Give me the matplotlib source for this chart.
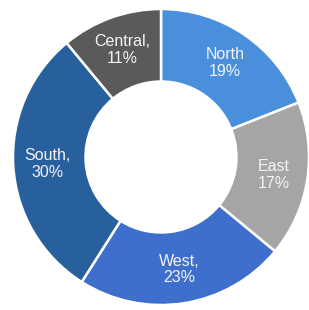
import numpy as np
import matplotlib.pyplot as plt

regions = ['North', 'East', 'West', 'South', 'Central']
shares = [19, 17, 23, 30, 11]
labels = ['North\n19%', 'East\n17%', 'West,\n23%', 'South,\n30%', 'Central,\n11%']
colors = ['#4a8fdb', '#a5a5a5', '#3f6fcc', '#28609e', '#5a5a5a']

fig = plt.figure(figsize=(3.09, 3.10), dpi=100)
ax = fig.add_axes([13 / 309, 5 / 310, 296 / 309, 296 / 310])

wedges, _ = ax.pie(shares, colors=colors, startangle=90, counterclock=False,
                   radius=1.0, wedgeprops=dict(width=0.49, edgecolor='white', linewidth=1.8))

# labels sit in the middle of the ring
for w, lab in zip(wedges, labels):
    ang = np.deg2rad((w.theta1 + w.theta2) / 2)
    r = 0.77
    ax.text(r * np.cos(ang), r * np.sin(ang), lab, ha='center', va='center',
            color='#f4f4f4', fontsize=11.5, family=['Liberation Sans', 'DejaVu Sans'],
            linespacing=1.15)

ax.set_xlim(-1, 1)
ax.set_ylim(-1, 1)
ax.set_aspect('equal')
ax.axis('off')

fig.savefig('out.png', dpi=100)
